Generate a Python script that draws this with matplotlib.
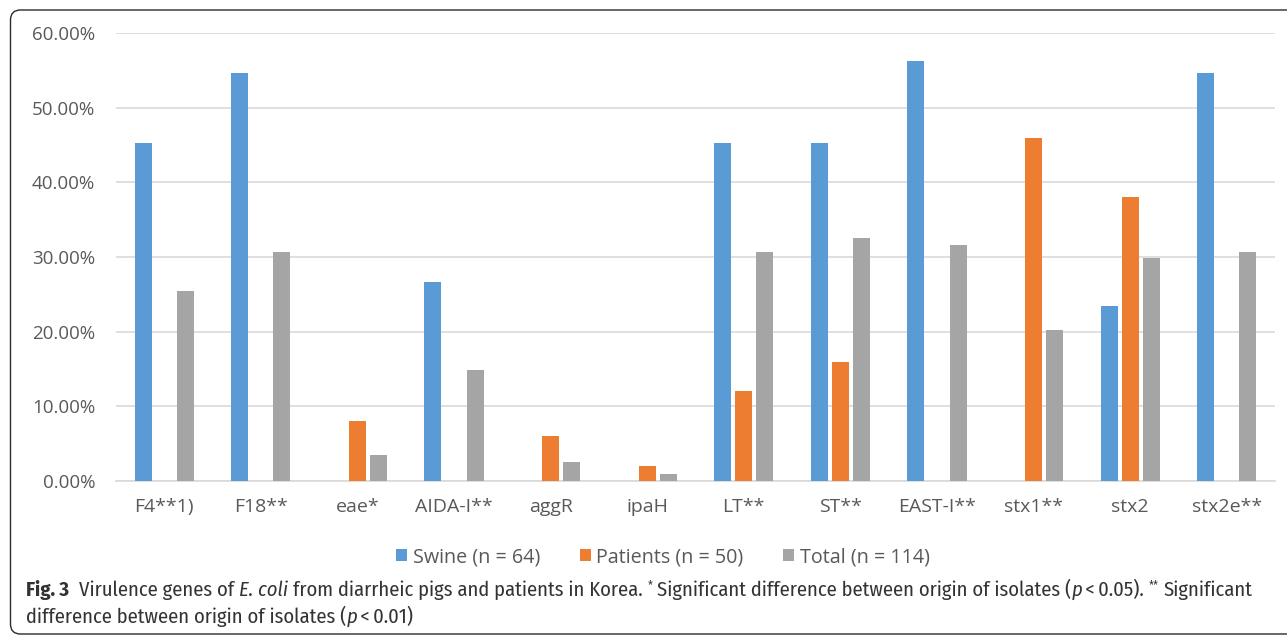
import matplotlib
matplotlib.use("Agg")
import matplotlib.pyplot as plt
import numpy as np
from matplotlib.patches import FancyBboxPatch
from matplotlib.ticker import FuncFormatter

categories = ["F4**1)", "F18**", "eae*", "AIDA-I**", "aggR", "ipaH", "LT**", "ST**",
              "EAST-I**", "stx1**", "stx2", "stx2e**"]
swine = [45.3, 54.7, 0, 26.6, 0, 0, 45.3, 45.3, 56.3, 0, 23.4, 54.7]
patients = [0, 0, 8.0, 0, 6.0, 2.0, 12.0, 16.0, 0, 46.0, 38.0, 0]
total = [25.4, 30.7, 3.5, 14.9, 2.6, 0.9, 30.7, 32.5, 31.6, 20.2, 29.8, 30.7]
series_names = ["Swine (n = 64)", "Patients (n = 50)", "Total (n = 114)"]
colors = ["#5B9BD5", "#ED7D31", "#A5A5A5"]
yticks = [0, 10, 20, 30, 40, 50, 60]

plt.rcParams['font.family'] = ['Open Sans', 'DejaVu Sans']
CAP_FAMILY = ['Fira Sans Condensed', 'Open Sans', 'DejaVu Sans']

W, H = 1287, 636
fig = plt.figure(figsize=(W / 100, H / 100), dpi=100)
ax = fig.add_axes([116 / W, 1 - 481 / H, (1275 - 116) / W, (481 - 33) / H])

x = np.arange(len(categories))
off = 0.218
bw = 0.176
for k, (vals, c, name) in enumerate(zip([swine, patients, total], colors, series_names)):
    ax.bar(x + (k - 1) * off, vals, width=bw, color=c, label=name, zorder=3)

ax.set_xlim(-0.5, len(categories) - 0.5)
ax.set_ylim(0, 60)
ax.set_yticks(yticks)
ax.yaxis.set_major_formatter(FuncFormatter(lambda v, p: f"{v:.2f}%"))
ax.set_xticks(x)
ax.set_xticklabels(categories)
ax.grid(axis='y', color='#D9D9D9', linewidth=1.2, zorder=0)
for s in ['top', 'right', 'left']:
    ax.spines[s].set_visible(False)
ax.spines['bottom'].set_color('#D9D9D9')
ax.spines['bottom'].set_linewidth(1.2)
ax.tick_params(axis='both', length=0, colors='#595959')
ax.tick_params(axis='x', pad=12, labelsize=14)
ax.tick_params(axis='y', pad=15, labelsize=13.5)

handles, labels = ax.get_legend_handles_labels()
fig.legend(handles, labels, loc='center', bbox_to_anchor=(663 / W, 1 - 557 / H), ncol=3,
           frameon=False, fontsize=14.2, handlelength=0.55, handleheight=0.55,
           handletextpad=0.3, columnspacing=2.0, labelcolor='#595959')

# rounded frame (in inches)
frame = FancyBboxPatch((0.105, 0.02), 14.0, 6.26 - 0.02, boxstyle="round,pad=0,rounding_size=0.10",
                       transform=fig.dpi_scale_trans, facecolor='none', edgecolor='#2b2b2b',
                       linewidth=1.0, clip_on=False)
fig.patches.append(frame)

# caption laid out piece by piece
line1 = [("Fig. 3", 'bold', 'normal', False), ("  ", None, None, False),
         ("Virulence genes of", 'normal', 'normal', False), (" ", None, None, False),
         ("E. coli", 'normal', 'italic', False), (" ", None, None, False),
         ("from diarrheic pigs and patients in Korea.", 'normal', 'normal', False), (" ", None, None, False),
         ("*", 'normal', 'normal', True), (" ", None, None, False),
         ("Significant difference between origin of isolates (", 'normal', 'normal', False),
         ("p", 'normal', 'italic', False),
         ("\u2009<\u20090.05).", 'normal', 'normal', False), (" ", None, None, False),
         ("**", 'normal', 'normal', True), (" ", None, None, False),
         ("Significant", 'normal', 'normal', False)]
line2 = [("difference between origin of isolates (", 'normal', 'normal', False),
         ("p", 'normal', 'italic', False),
         ("\u2009<\u20090.01)", 'normal', 'normal', False)]

renderer = fig.canvas.get_renderer()


def measure(s, size, weight='normal', style='normal'):
    t = fig.text(0, 0, s, fontsize=size, family=CAP_FAMILY, weight=weight, style=style)
    w = t.get_window_extent(renderer).width
    t.remove()
    return w


def space_w(size):
    return measure("a a", size) - measure("aa", size)


def line_width(segs, size):
    total_w = 0
    for s, wgt, sty, sup in segs:
        if wgt is None:
            total_w += space_w(size) * len(s)
        else:
            total_w += measure(s, size * (0.6 if sup else 1), wgt, sty)
    return total_w


X0 = 26.0
X1 = 1259.0
base = 12.0
size = base * (X1 - X0) / line_width(line1, base)


def draw_line(segs, ypix, size):
    xp = X0
    for s, wgt, sty, sup in segs:
        if wgt is None:
            xp += space_w(size) * len(s)
            continue
        fs = size * (0.6 if sup else 1)
        yy = ypix - (size * 0.45 if sup else 0)
        t = fig.text(xp / W, 1 - yy / H, s, fontsize=fs, family=CAP_FAMILY, weight=wgt,
                     style=sty, color='#333333', va='baseline', ha='left')
        xp += t.get_window_extent(renderer).width


draw_line(line1, 596, size)
draw_line(line2, 623, size)

fig.savefig("out.png", dpi=100)
